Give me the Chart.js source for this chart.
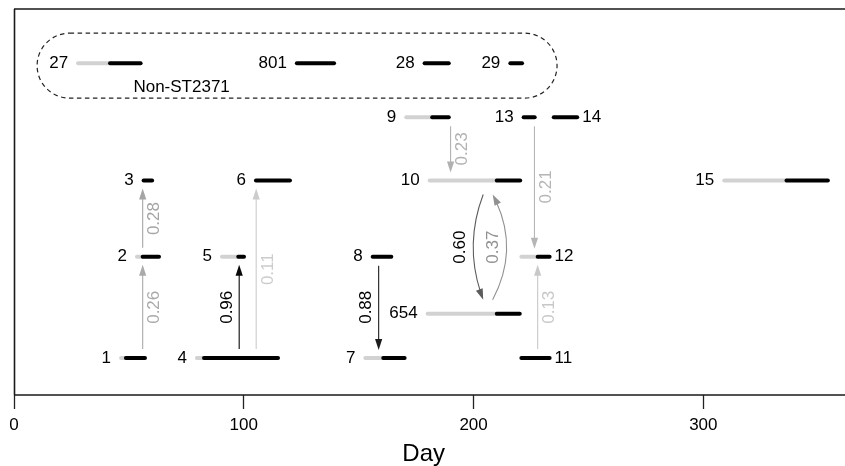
<!DOCTYPE html>
<html>
<head>
<meta charset="utf-8">
<script src="https://cdn.jsdelivr.net/npm/chart.js@4.4.1/dist/chart.umd.min.js"></script>
<style>
  html, body { margin: 0; padding: 0; background: #fff; }
  canvas { display: block; }
</style>
</head>
<body>
<canvas id="c" width="845" height="466"></canvas>
<script>
// ---------------- data ----------------
const patientIds    = ['1','2','3','4','5','6','7','8','9','10','654','11','12','13','14','15','27','801','28','29'];
const rowLevel      = [37,138,214,37,138,214,37,138,277,214,81,37,138,277,277,214,331,331,331,331];
const grayStartDay  = [46.6,53.5,null,79.6,90.5,null,152.9,null,170.7,180.9,180.0,null,220.8,null,null,309.1,27.9,null,null,null];
const blackStartDay = [48.7,56.0,56.4,82.7,97.6,105.3,160.7,156.1,182.0,210.1,210.1,220.8,227.9,221.8,234.9,336.2,41.8,123.1,178.7,216.0];
const endDay        = [57.0,63.1,60.1,114.9,100.1,120.1,170.0,164.2,189.2,220.3,220.1,233.1,233.1,226.6,245.1,354.2,55.1,139.3,189.2,221.1];
const labelOnRight  = ['11','12','14'];
const nonST2371     = ['27','801','28','29'];
const groupLabel    = 'Non-ST2371';

const arrowFrom = ['1','2','4','4','8','9','13','11','10','654'];
const arrowTo   = ['2','3','5','6','7','10','12','12','654','10'];
const arrowDay  = [56.0,56.0,98.0,105.4,158.7,190.0,226.5,227.9,204.2,208.3];
const arrowProb = [0.26,0.28,0.96,0.11,0.88,0.23,0.21,0.13,0.60,0.37];

const xTicks = [0,100,200,300];
const xTitle = 'Day';

// ---------------- build ----------------
const FONT = '"Liberation Sans", Arial, Helvetica, sans-serif';
const levelOf = id => rowLevel[patientIds.indexOf(id)];
const greyFor = p => { const g = Math.round(255 * Math.min(0.8, 0.9 * (1 - p))); return `rgb(${g},${g},${g})`; };

const datasets = [];
patientIds.forEach((id, i) => {
  if (grayStartDay[i] !== null) {
    datasets.push({
      data: [{x: grayStartDay[i], y: rowLevel[i]}, {x: blackStartDay[i], y: rowLevel[i]}],
      borderColor: '#d2d2d2', borderWidth: 4, borderCapStyle: 'round',
      showLine: true, pointRadius: 0, order: 2
    });
  }
  datasets.push({
    data: [{x: blackStartDay[i], y: rowLevel[i]}, {x: endDay[i], y: rowLevel[i]}],
    borderColor: '#000', borderWidth: 4, borderCapStyle: 'round',
    showLine: true, pointRadius: 0, order: 1
  });
});

function drawHead(ctx, x, y, dx, dy, color) {
  const len = Math.hypot(dx, dy); const ux = dx / len, uy = dy / len;
  const L = 11, W = 3.6;
  ctx.fillStyle = color;
  ctx.beginPath();
  ctx.moveTo(x, y);
  ctx.lineTo(x - ux * L - uy * W, y - uy * L + ux * W);
  ctx.lineTo(x - ux * L + uy * W, y - uy * L - ux * W);
  ctx.closePath();
  ctx.fill();
}

const decor = {
  id: 'decor',
  beforeDatasetsDraw(chart) {
    const {ctx, chartArea: a} = chart;
    ctx.save();
    ctx.strokeStyle = '#1a1a1a';
    ctx.lineWidth = 1.6;
    ctx.beginPath();
    ctx.moveTo(a.left + 0.5, a.top);
    ctx.lineTo(a.left + 0.5, a.bottom);
    ctx.moveTo(a.left, a.top);
    ctx.lineTo(chart.width, a.top);
    ctx.moveTo(a.left, a.bottom);
    ctx.lineTo(chart.width, a.bottom);
    ctx.stroke();
    ctx.restore();
  },
  afterDatasetsDraw(chart, args, opts) {
    const {ctx, scales: {x, y}} = chart;
    ctx.save();
    ctx.font = `17px ${FONT}`;
    ctx.textBaseline = 'middle';
    ctx.fillStyle = '#000';
    // patient labels
    patientIds.forEach((id, i) => {
      const py = y.getPixelForValue(rowLevel[i]);
      if (labelOnRight.includes(id)) {
        ctx.textAlign = 'left';
        ctx.fillText(id, x.getPixelForValue(endDay[i]) + 5, py);
      } else {
        const s = grayStartDay[i] !== null ? grayStartDay[i] : blackStartDay[i];
        ctx.textAlign = 'right';
        ctx.fillText(id, x.getPixelForValue(s) - 10, py);
      }
    });
    // group box
    const gi = nonST2371.map(id => patientIds.indexOf(id));
    const gx0 = Math.min(...gi.map(i => x.getPixelForValue(grayStartDay[i] !== null ? grayStartDay[i] : blackStartDay[i]))) - 41;
    const gx1 = Math.max(...gi.map(i => x.getPixelForValue(endDay[i]))) + 35;
    const gy = y.getPixelForValue(rowLevel[gi[0]]);
    const gy0 = gy - 30, gy1 = gy + 35, r = (gy1 - gy0) / 2;
    ctx.strokeStyle = '#222';
    ctx.lineWidth = 1.2;
    ctx.setLineDash([4.5, 3.5]);
    ctx.beginPath();
    ctx.moveTo(gx0 + r, gy0);
    ctx.lineTo(gx1 - r, gy0);
    ctx.arc(gx1 - r, gy0 + r, r, -Math.PI / 2, Math.PI / 2);
    ctx.lineTo(gx0 + r, gy1);
    ctx.arc(gx0 + r, gy0 + r, r, Math.PI / 2, Math.PI * 1.5);
    ctx.closePath();
    ctx.stroke();
    ctx.setLineDash([]);
    ctx.textAlign = 'center';
    ctx.fillText(groupLabel, gx0 + 144.5, gy + 24);

    // transitions
    arrowFrom.forEach((f, k) => {
      const p = arrowProb[k];
      const col = greyFor(p);
      const ax = x.getPixelForValue(arrowDay[k]);
      const yf = y.getPixelForValue(levelOf(f));
      const yt = y.getPixelForValue(levelOf(arrowTo[k]));
      const dir = Math.sign(yt - yf);
      const bend = opts.curved[k];
      ctx.strokeStyle = col;
      ctx.lineWidth = 1.1;
      let lx;
      if (bend === undefined) {
        const y0 = yf + dir * 9, y1 = yt - dir * 8;
        ctx.beginPath();
        ctx.moveTo(ax, y0);
        ctx.lineTo(ax, y1 - dir * 9);
        ctx.stroke();
        drawHead(ctx, ax, y1, 0, dir, col);
        lx = ax + (opts.labelLeft.includes(k) ? -12 : 12);
      } else {
        const y0 = yf + dir * 14, y1 = yt - dir * 14;
        const cx = ax + 2 * bend, cy = (y0 + y1) / 2;
        ctx.beginPath();
        ctx.moveTo(ax, y0);
        const t = 0.93;
        const q0x = ax + (cx - ax) * t, q0y = y0 + (cy - y0) * t;
        const q1x = cx + (ax - cx) * t, q1y = cy + (y1 - cy) * t;
        const ex = q0x + (q1x - q0x) * t, ey = q0y + (q1y - q0y) * t;
        ctx.quadraticCurveTo(q0x, q0y, ex, ey);
        ctx.stroke();
        drawHead(ctx, ax, y1, ax - cx, y1 - cy, col);
        lx = ax + bend - 13;
      }
      const ly = (yf + yt) / 2;
      ctx.save();
      ctx.translate(lx, ly);
      ctx.rotate(-Math.PI / 2);
      ctx.fillStyle = p >= 0.5 ? '#000' : col;
      ctx.textAlign = 'center';
      ctx.textBaseline = 'middle';
      ctx.fillText(p.toFixed(2), 0, 0);
      ctx.restore();
    });
    ctx.restore();
  }
};

new Chart(document.getElementById('c'), {
  type: 'scatter',
  data: { datasets },
  options: {
    responsive: false,
    animation: false,
    layout: { padding: { left: 14, right: 11.6, top: 9, bottom: 0 } },
    scales: {
      x: {
        type: 'linear', min: 0, max: 356.6,
        afterBuildTicks: s => { s.ticks = xTicks.map(v => ({value: v})); },
        border: { display: false },
        grid: { display: true, drawOnChartArea: false, drawTicks: true, tickLength: 14, tickColor: '#222', tickWidth: 1.3 },
        ticks: { font: { family: FONT, size: 17 }, color: '#000', padding: 6, maxRotation: 0, autoSkip: false },
        title: { display: true, text: xTitle, color: '#000', font: { family: FONT, size: 24, lineHeight: 1 }, padding: { top: 0.6, bottom: 0 } }
      },
      y: { display: false, min: 0, max: 385 }
    },
    plugins: {
      legend: { display: false },
      tooltip: { enabled: false },
      decor: { curved: { 8: -10, 9: 14 }, labelLeft: [2, 4, 8, 9] }
    }
  },
  plugins: [decor]
});
</script>
</body>
</html>
